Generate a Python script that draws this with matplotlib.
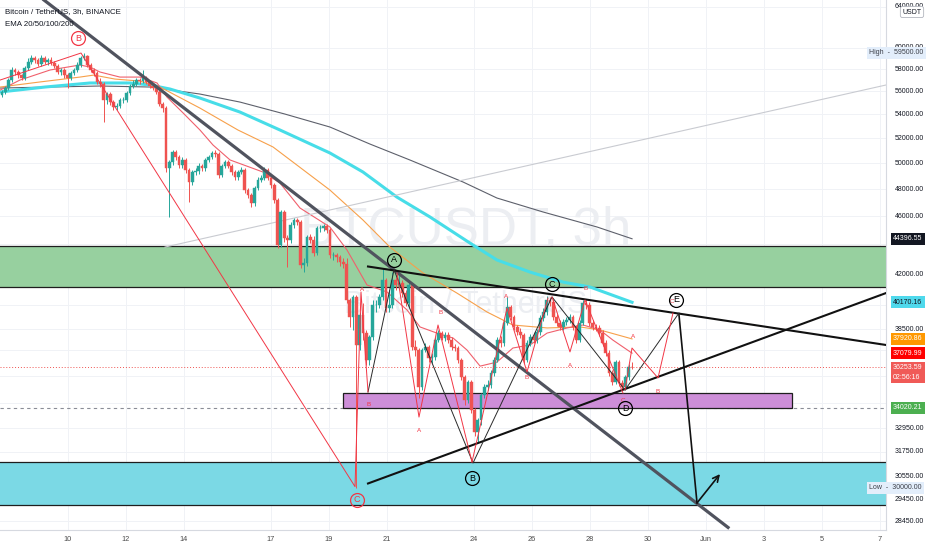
import numpy as np
import matplotlib
matplotlib.use("Agg")
import matplotlib.pyplot as plt
import matplotlib.transforms as mtrans
from matplotlib.patches import Rectangle
from matplotlib.ticker import NullLocator

plt.rcParams['font.family'] = ['Liberation Sans', 'DejaVu Sans']

# ---- BTCUSDT 3h candles (open = previous close) ----
first_open = 55670
closes = [
    55940, 56290, 57000, 57910, 57730, 57450, 57180, 58090, 58640, 59010,
    58830, 58460, 59010, 58640, 58830, 58550, 58280, 57730, 57910, 57450,
    57180, 57640, 57910, 58370, 59010, 59200, 58370, 57910, 57640, 56830,
    56650, 55240, 55760, 55060, 54630, 54720, 55240, 55240, 55850, 56470,
    56650, 57000, 56910, 57180, 56830, 56470, 56290, 55940, 54890, 54540,
    49630, 50100, 50900, 50500, 49860, 50260, 49470, 48550, 49320, 49390,
    49780, 49630, 50260, 50500, 50820, 50740, 49090, 49780, 50100, 49780,
    49320, 48930, 49320, 49470, 47940, 47560, 46970, 48090, 48700, 48850,
    49470, 48850, 48320, 47190, 43960, 46310, 44450, 44310, 45370, 45730,
    45580, 42600, 42730, 44520, 44310, 43410, 45150, 45150, 45300, 45010,
    43280, 43280, 43140, 42800, 42670, 40320, 39250, 40510, 37560, 39370,
    38270, 36680, 38030, 40000, 40000, 40510, 41610, 39810, 40000, 41610,
    41280, 41410, 40760, 40130, 41280, 37440, 37260, 35150, 37260, 37440,
    36800, 36860, 37850, 38270, 37970, 38150, 37850, 37440, 37380, 36680,
    35710, 34440, 35430, 33900, 32750, 33370, 34710, 35150, 35270, 35940,
    36680, 37850, 37680, 38880, 39870, 39250, 38640, 38330, 38150, 36680,
    37680, 38030, 37850, 38330, 39190, 39560, 40320, 40190, 39250, 38880,
    38640, 38940, 39070, 39250, 38640, 37850, 38880, 40130, 40000, 38880,
    38640, 38580, 38270, 37680, 37090, 35940, 35430, 36560, 35380, 35150,
    35710, 36280, 36254]
highs = [
    56110, 56470, 57180, 58180, 58090, 57910, 57550, 58280, 59010, 59290,
    59200, 59010, 59290, 59200, 59010, 59110, 58740, 58460, 58090, 58090,
    57640, 57820, 58090, 58640, 59200, 59500, 59290, 58550, 58090, 57820,
    57180, 56830, 55940, 55940, 55240, 54980, 55410, 55500, 56030, 56650,
    57000, 57180, 57180, 57910, 57360, 57000, 56650, 56470, 56110, 55060,
    54720, 50260, 51060, 51060, 50660, 50500, 50420, 49630, 49470, 49630,
    50020, 49940, 50420, 50660, 50980, 51060, 50900, 49940, 50260, 50260,
    49940, 49470, 49470, 49710, 49630, 48090, 47710, 48240, 48930, 49090,
    49710, 49630, 49010, 48470, 47340, 46450, 46450, 44660, 45580, 45870,
    45870, 45730, 43070, 44660, 44730, 44590, 45300, 45370, 45440, 45440,
    45150, 43480, 43410, 43280, 43070, 43070, 40440, 40630, 40630, 39560,
    40130, 38460, 38150, 40320, 40320, 40700, 42400, 41740, 40960, 42130,
    41800, 41930, 41610, 40960, 41480, 41410, 37850, 37380, 37380, 37680,
    37560, 37090, 38030, 38460, 38390, 38330, 38330, 38030, 37620, 37500,
    36800, 35830, 35540, 35540, 34010, 33480, 34820, 35320, 35540, 36110,
    36860, 38030, 38090, 39070, 40510, 40000, 39370, 38760, 38580, 38270,
    37850, 38210, 38270, 38520, 39370, 39810, 40570, 40510, 40380, 39440,
    39070, 39130, 39250, 39440, 39370, 38760, 39070, 40320, 40320, 40190,
    39070, 38820, 38760, 38460, 37850, 37260, 36110, 36680, 36680, 35540,
    35830, 36450, 36560]
lows = [
    55500, 55760, 56110, 56830, 57450, 57180, 57000, 57000, 57910, 58460,
    58550, 58280, 58280, 58460, 58370, 58370, 58090, 57550, 57450, 57180,
    56290, 57000, 57450, 57730, 58180, 58830, 58180, 57730, 57360, 56650,
    56380, 53360, 54890, 54800, 54370, 54370, 54540, 54980, 55060, 55670,
    56290, 56470, 56650, 56740, 56650, 56290, 56110, 55760, 54720, 54200,
    49320, 45950, 49860, 50260, 49630, 49630, 49240, 47040, 48320, 49090,
    49160, 49390, 49390, 50100, 50340, 50500, 48850, 48930, 49630, 49630,
    49090, 48700, 48700, 49160, 47710, 47340, 46670, 46750, 47940, 48550,
    48700, 48700, 48090, 46970, 43750, 43820, 44170, 42470, 44100, 45150,
    45370, 42400, 42130, 42530, 44100, 43210, 43280, 44870, 44940, 44800,
    43070, 42940, 42800, 42530, 42400, 40130, 38640, 38460, 30000, 37260,
    37850, 36390, 36390, 37850, 39560, 39810, 40320, 39560, 39560, 39810,
    40960, 41080, 40510, 39940, 39870, 37260, 36910, 34550, 34990, 37150,
    36560, 36510, 36680, 37730, 37850, 37790, 37680, 37260, 37200, 36510,
    35540, 34170, 34280, 33740, 32550, 32190, 33110, 34550, 34990, 35100,
    35770, 36560, 37440, 37500, 38760, 39070, 38460, 38150, 37970, 36510,
    36560, 37500, 37680, 37680, 38150, 39000, 39370, 39940, 39070, 38700,
    38460, 38460, 38760, 38880, 38460, 37680, 37730, 38760, 39750, 38700,
    38460, 38390, 38090, 37500, 36910, 35770, 35270, 35320, 35210, 34990,
    34990, 35540, 36170]
first_candle_day = 7.72   # day of May
last_candle_day = 29.45

# ---- moving averages ----
ema20_days = [7.66, 8.34, 9.38, 10.41, 10.76, 11.10, 11.79, 12.48, 13.07, 13.41,
              13.97, 14.55, 15.00, 15.59, 16.72, 17.31, 18.00, 19.03, 19.62, 20.31,
              21.00, 21.69, 22.14, 22.72, 23.28, 23.76, 24.21, 24.79, 25.34, 25.93,
              26.52, 27.21, 27.76, 28.34, 28.79, 29.45]
ema20_vals = [56110, 57000, 57910, 58370, 58180, 57730, 57270, 57270, 56740, 55500,
              54120, 52690, 51460, 50260, 49320, 48470, 46600, 45230, 43620, 41280,
              40830, 39690, 38640, 38270, 37970, 37260, 36330, 36560, 37380, 37560,
              38270, 38580, 38760, 38460, 37850, 37079.99]
ema50_days = [7.66, 9.03, 10.41, 10.89, 11.62, 12.48, 13.17, 14.55, 15.86, 17.07,
              19.03, 20.17, 21.10, 22.24, 23.41, 24.45, 25.34, 26.52, 27.66, 28.34, 29.45]
ema50_vals = [56380, 56830, 57270, 57450, 57090, 56910, 56380, 54540, 52690, 51300,
              47940, 45730, 43820, 42070, 40760, 39560, 38760, 38580, 38640, 38460, 37920.86]
ema100_days = [7.66, 9.21, 10.76, 12.14, 12.83, 13.52, 14.55, 15.93, 17.31, 19.03,
               20.17, 21.34, 22.48, 23.86, 24.79, 25.93, 27.07, 28.00, 29.45]
ema100_vals = [55940, 56380, 56740, 56740, 56560, 56200, 55410, 54200, 52690, 50820,
               49320, 47410, 45950, 44100, 42940, 42130, 41470, 41150, 40170.16]
ema200_days = [7.66, 9.38, 11.10, 12.83, 14.55, 15.93, 17.48, 19.03, 20.41, 21.79,
               23.62, 24.79, 26.38, 28.24, 29.45]
ema200_vals = [56290, 56380, 56470, 56380, 55760, 55060, 54030, 52940, 51540, 50260,
               48550, 47340, 46310, 45230, 44396.55]

# ---- price levels / zones ----
last_price = 36253.59
level_price = 34020.21
high_price = 59500.00
low_price = 30000.00
green_zone = [41170, 43870]
cyan_zone = [29190, 31220]
purple_zone = [34000, 34840]
purple_zone_days = [19.48, 34.97]

# ---- drawings (day of May, price) ----
down_line_days = [9.17, 32.76]
down_line_prices = [64660, 28180]
tri_upper_days = [20.345, 38.207]
tri_upper_prices = [42500, 37560]
tri_lower_days = [20.345, 38.207]
tri_lower_prices = [30200, 40760]
grey_line_days = [13.345, 38.207]
grey_line_prices = [43820, 56560]
wave_days = [20.345, 21.241, 23.966, 26.690, 29.207, 31.069]
wave_prices = [34880, 42270, 31190, 40510, 34990, 39500]
proj_days = [31.069, 31.690]
proj_prices = [39370, 29290]
arrow_end = (32.483, 30650)
red_wave_days = [7.655, 10.448, 19.897, 20.103, 20.345]
red_wave_prices = [57000, 59480, 30050, 40830, 34880]
red_sub_days = [[21.345, 22.103, 22.759, 23.931],
                [23.931, 25.138, 25.828, 26.552],
                [26.690, 27.310, 27.828, 29.138],
                [29.207, 29.448, 30.345, 30.862]]
red_sub_prices = [[42070, 33530, 38760, 31240],
                  [31240, 39810, 36000, 40440],
                  [40510, 37150, 40320, 34820],
                  [34990, 37380, 35660, 39500]]
red_letters = ['A', 'B', 'A', 'B', 'A', 'B', 'A', 'B', 'C', 'A', 'B', 'C']
red_letter_days = [20.138, 20.379, 22.103, 22.862, 25.103, 25.828, 27.310, 27.862,
                   29.138, 29.483, 30.345, 30.828]
red_letter_prices = [40960, 34220, 32850, 39500, 40510, 35710, 36390, 41080,
                     34440, 38090, 34930, 40190]
circle_labels = ['B', 'C', 'A', 'B', 'C', 'D', 'E']
circle_days = [10.345, 19.966, 21.241, 23.931, 26.690, 29.207, 30.966]
circle_prices = [60900, 29425, 42940, 30460, 41340, 34010, 40320]
circle_colors = ['#f23645', '#f23645', 'black', 'black', 'black', 'black', 'black']

grid_prices = [64000, 60000, 58000, 56000, 54000, 52000, 50000, 48000, 46000, 44000,
               42000, 40000, 38500, 37250, 35750, 34300, 32950, 31750, 30550, 29450, 28450]
# labels that stay visible next to the coloured price badges
price_labels = [64000, 60000, 58000, 56000, 54000, 52000, 50000, 48000, 46000,
                42000, 38500, 32950, 31750, 30550, 29450, 28450]
date_ticks = [10, 12, 14, 17, 19, 21, 24, 26, 28, 30, 32, 34, 36, 38]
date_labels = ['10', '12', '14', '17', '19', '21', '24', '26', '28', '30', 'Jun', '3', '5', '7']

W, H = 932, 550
fig = plt.figure(figsize=(W / 100, H / 100), dpi=100)
ax = fig.add_axes([0, 20 / H, 886 / W, 530 / H])
ax.set_yscale('log')
ax.set_xlim(7.655, 38.207)
ax.set_ylim(28067, 64660)
ax.yaxis.set_major_locator(NullLocator())
ax.yaxis.set_minor_locator(NullLocator())
ax.set_xticks(date_ticks)
ax.set_xticklabels(date_labels)
ax.tick_params(axis='x', length=0, labelsize=5.3, labelcolor='#4a4a4a', pad=4.5)
for s in ['top', 'left']:
    ax.spines[s].set_visible(False)
for s in ['right', 'bottom']:
    ax.spines[s].set_color('#d6d9e0')
    ax.spines[s].set_linewidth(0.8)

# grid
for p in grid_prices:
    ax.axhline(p, color='#f0f2f6', lw=0.7, zorder=0)
for d in date_ticks:
    ax.axvline(d, color='#f0f2f6', lw=0.7, zorder=0)

# watermark
ax.text(0.525, 0.565, 'BTCUSDT, 3h', transform=ax.transAxes, fontsize=38,
        color='#eceef2', ha='center', va='center', zorder=0.5)
ax.text(0.525, 0.425, 'Bitcoin / TetherUS', transform=ax.transAxes, fontsize=22,
        color='#eceef2', ha='center', va='center', zorder=0.5)

# zones
ax.axhspan(green_zone[0], green_zone[1], fc='#97d09f', ec='none', zorder=1)
ax.axhspan(cyan_zone[0], cyan_zone[1], fc='#7bd9e5', ec='none', zorder=1)
for p in green_zone + cyan_zone:
    ax.axhline(p, color='#1e1e1e', lw=0.9, zorder=1.2)
ax.axhline(level_price, color='#8a8d96', lw=0.8, ls=(0, (3, 3)), zorder=1.1)
ax.add_patch(Rectangle((purple_zone_days[0], purple_zone[0]),
                       purple_zone_days[1] - purple_zone_days[0],
                       purple_zone[1] - purple_zone[0],
                       fc='#cd8ed8', ec='#1e1e1e', lw=0.9, zorder=1.3))
ax.axhline(last_price, color='#ef5350', lw=0.7, ls=(0, (1, 2)), zorder=1.4)

# moving averages
ax.plot(ema200_days, ema200_vals, color='#5d606b', lw=0.8, zorder=2)
ax.plot(ema100_days, ema100_vals, color='#47dde8', lw=2.2, zorder=2)
ax.plot(ema50_days, ema50_vals, color='#f7a04a', lw=0.8, zorder=2)
ax.plot(ema20_days, ema20_vals, color='#f0606c', lw=0.8, zorder=2)

# candles
days = np.linspace(first_candle_day, last_candle_day, len(closes))
opens = [first_open] + closes[:-1]
up_c, dn_c = '#26a69a', '#ef5350'
for d, o, h, l, c in zip(days, opens, highs, lows, closes):
    col = up_c if c >= o else dn_c
    ax.vlines(d, min(l, o, c), max(h, o, c), color=col, lw=0.7, zorder=3)
    ax.bar(d, abs(c - o), bottom=min(o, c), width=0.095, color=col,
           edgecolor=col, linewidth=0.3, zorder=3.1)

# drawings
ax.plot(grey_line_days, grey_line_prices, color='#c9cbd1', lw=0.8, zorder=2.5)
ax.plot(down_line_days, down_line_prices, color='#50535e', lw=2.3, zorder=4)
ax.plot(tri_upper_days, tri_upper_prices, color='#111111', lw=1.5, zorder=4)
ax.plot(tri_lower_days, tri_lower_prices, color='#111111', lw=1.5, zorder=4)
ax.plot(wave_days, wave_prices, color='#2a2a2a', lw=0.7, zorder=4)
ax.plot(red_wave_days, red_wave_prices, color='#f23645', lw=0.7, zorder=4)
for dd, pp in zip(red_sub_days, red_sub_prices):
    ax.plot(dd, pp, color='#f23645', lw=0.7, zorder=4)
ax.plot(proj_days, proj_prices, color='#111111', lw=1.2, zorder=4)
ax.annotate('', xy=arrow_end, xytext=(proj_days[1], proj_prices[1]),
            arrowprops=dict(arrowstyle='->', color='#111111', lw=1.2,
                            mutation_scale=11, shrinkA=0, shrinkB=0), zorder=4)
for t, d, p in zip(red_letters, red_letter_days, red_letter_prices):
    ax.text(d, p, t, color='#f23645', fontsize=4.5, ha='center', va='center', zorder=4.5)
for t, d, p, c in zip(circle_labels, circle_days, circle_prices, circle_colors):
    ax.plot(d, p, 'o', ms=10, mfc='none', mec=c, mew=0.9, zorder=4.6)
    ax.text(d, p, t, color=c, fontsize=6.5, ha='center', va='center', zorder=4.7)

# title
ax.text(5 / 886, 1 - 12 / 530, 'Bitcoin / TetherUS, 3h, BINANCE', transform=ax.transAxes,
        fontsize=5.7, color='#131722', va='center', ha='left', zorder=6)
ax.text(5 / 886, 1 - 25 / 530, 'EMA 20/50/100/200', transform=ax.transAxes,
        fontsize=5.7, color='#131722', va='center', ha='left', zorder=6)

# price axis labels
yt = mtrans.blended_transform_factory(ax.transAxes, ax.transData)
for p in price_labels:
    ax.text(895 / 886, p, f'{p:.2f}', transform=yt, fontsize=5, color='#131722',
            va='center', ha='left', zorder=6, clip_on=False)

badges = [(44396.55, '44396.55', '#131722', 'white'),
          (40170.16, '40170.16', '#4fd9ec', '#131722'),
          (37920.86, '37920.86', '#ff9800', 'white'),
          (37079.99, '37079.99', '#ff0000', 'white'),
          (level_price, '34020.21', '#4caf50', 'white')]
for p, t, fc, tc in badges:
    ax.text(893 / 886, p, t, transform=yt, fontsize=5, color=tc, va='center', ha='left',
            bbox=dict(boxstyle='square,pad=0.35', fc=fc, ec='none'), zorder=8)
ax.annotate('36253.59\n02:56:16', xy=(893 / 886, last_price), xycoords=yt,
            xytext=(0, -3.6), textcoords='offset points', fontsize=5, color='white',
            va='center', ha='left', linespacing=1.5,
            bbox=dict(boxstyle='square,pad=0.35', fc='#f05a57', ec='none'), zorder=8)
for p, t in [(high_price, 'High'), (low_price, 'Low')]:
    ax.text(869 / 886, p, f'{t}  -  {p:.2f}', transform=yt, fontsize=5, color='#3c3f48',
            va='center', ha='left',
            bbox=dict(boxstyle='square,pad=0.35', fc='#e3eefb', ec='none'), zorder=8)
ax.text(912 / 886, 1 - 12 / 530, 'USDT', transform=ax.transAxes, fontsize=5,
        color='#131722', va='center', ha='center',
        bbox=dict(boxstyle='round,pad=0.3,rounding_size=0.3', fc='white', ec='#b2b5be', lw=0.6),
        zorder=9)

fig.savefig('out.png', dpi=100, facecolor='white')
